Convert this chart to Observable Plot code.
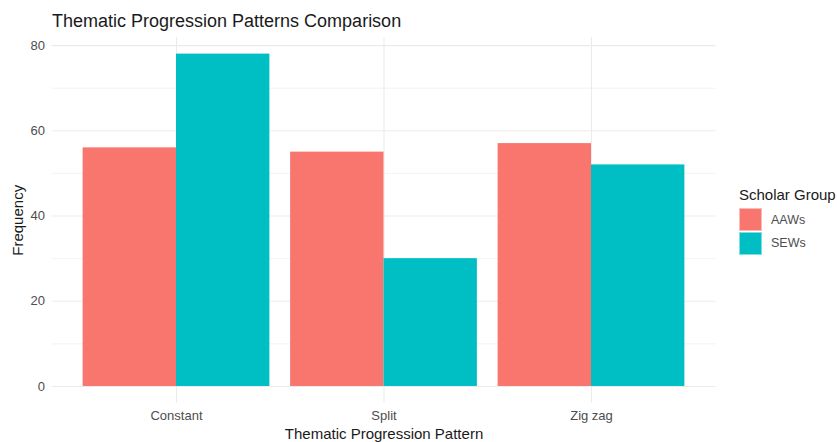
<!DOCTYPE html>
<html>
<head>
<meta charset="utf-8">
<script src="https://cdn.jsdelivr.net/npm/d3@7"></script>
<script src="https://cdn.jsdelivr.net/npm/@observablehq/plot@0.6"></script>
<style>
  html, body { margin: 0; padding: 0; background: #fff; }
  #root { position: relative; width: 837px; height: 442px; overflow: hidden; font-family: "Liberation Sans", Arial, sans-serif; }
  #title { position: absolute; left: 52px; top: 11px; font-size: 18px; line-height: 20px; color: #1a1a1a; white-space: nowrap; }
  #chart { position: absolute; left: 0; top: 32px; }
  #legend { position: absolute; left: 739px; top: 186px; }
  #legend .ltitle { font-size: 15px; line-height: 17px; color: #1a1a1a; white-space: nowrap; margin-bottom: 5px; }
  #legend .item { display: flex; align-items: center; height: 23.5px; }
  #legend .sw { width: 23px; height: 23px; box-sizing: border-box; border: 1px solid rgba(255,255,255,0.5); }
  #legend .lab { font-size: 12.5px; color: #4d4d4d; margin-left: 9px; }
  svg [aria-label="y-axis label"], svg [aria-label="x-axis label"] { fill: #1a1a1a; font-size: 15px; }
</style>
</head>
<body>
<div id="root">
  <div id="title"></div>
  <div id="chart"></div>
  <div id="legend"></div>
</div>
<script>
const chartTitle = "Thematic Progression Patterns Comparison";
const xTitle = "Thematic Progression Pattern";
const yTitle = "Frequency";
const legendTitle = "Scholar Group";
const categories = ["Constant", "Split", "Zig zag"];
const groups = ["AAWs", "SEWs"];
const aawsValues = [56, 55, 57];
const sewsValues = [78, 30, 52];
const yTicks = [0, 20, 40, 60, 80];
const yMinorTicks = [10, 30, 50, 70];
const groupColors = ["#F8766D", "#00BFC4"];

const dodgeWidth = 0.9;
const seriesValues = [aawsValues, sewsValues];
const rows = [];
categories.forEach((c, i) => {
  groups.forEach((g, j) => {
    const w = dodgeWidth / groups.length;
    const x1 = (i + 1) - dodgeWidth / 2 + j * w;
    rows.push({category: c, group: g, value: seriesValues[j][i], x1, x2: x1 + w});
  });
});
const maxV = d3.max(rows, d => d.value);
const pad = 0.05 * maxV;

document.getElementById("title").textContent = chartTitle;

const gridColor = "#ebebeb";
const plot = Plot.plot({
  width: 725,
  height: 410,
  marginLeft: 51.5,
  marginRight: 9.5,
  marginTop: 5,
  marginBottom: 39.4,
  style: {fontFamily: "'Liberation Sans', Arial, sans-serif", fontSize: "13px", background: "#fff"},
  x: {type: "linear", domain: [1 - 0.6, categories.length + 0.6]},
  y: {domain: [-pad, maxV + pad]},
  color: {domain: groups, range: groupColors},
  marks: [
    Plot.gridY(yMinorTicks, {stroke: gridColor, strokeOpacity: 1, strokeWidth: 0.6}),
    Plot.gridY(yTicks, {stroke: gridColor, strokeOpacity: 1, strokeWidth: 1.1}),
    Plot.gridX(categories.map((c, i) => i + 1), {stroke: gridColor, strokeOpacity: 1, strokeWidth: 1.1}),
    Plot.rectY(rows, {x1: "x1", x2: "x2", y1: 0, y2: "value", fill: "group"}),
    Plot.axisY(yTicks, {tickSize: 0, tickPadding: 7, color: "#4d4d4d", label: yTitle, labelAnchor: "center", labelOffset: 40, labelArrow: "none"}),
    Plot.axisX(categories.map((c, i) => i + 1), {tickSize: 0, tickPadding: 8, color: "#4d4d4d", tickFormat: d => categories[d - 1], label: xTitle, labelAnchor: "center", labelOffset: 36, labelArrow: "none"})
  ]
});
document.getElementById("chart").appendChild(plot);

const legend = d3.select("#legend");
legend.append("div").attr("class", "ltitle").text(legendTitle);
groups.forEach((g, j) => {
  const it = legend.append("div").attr("class", "item");
  it.append("div").attr("class", "sw").style("background", groupColors[j]);
  it.append("div").attr("class", "lab").text(g);
});
</script>
</body>
</html>
